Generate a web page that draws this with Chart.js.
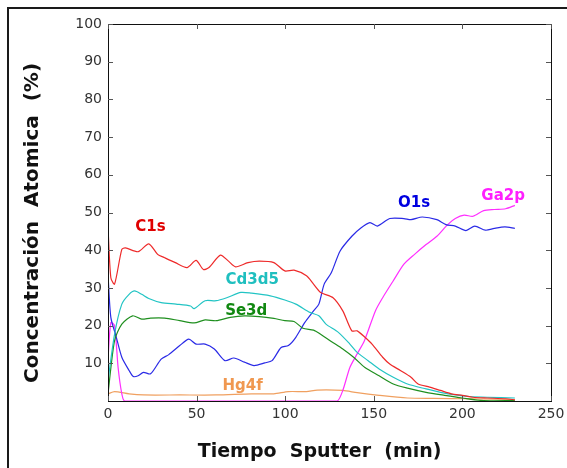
<!DOCTYPE html>
<html>
<head>
<meta charset="utf-8">
<script src="https://cdn.jsdelivr.net/npm/chart.js@4"></script>
<style>
  body { margin: 0; background: #fff; }
  #frame { position: absolute; left: 7px; top: 7px; width: 600px; height: 500px; border: 2px solid #1a1a1a; }
  #wrap { position: absolute; left: 0; top: 0; width: 567px; height: 468px; }
</style>
</head>
<body>
<div id="frame"></div>
<div id="wrap"><canvas id="myChart" width="567" height="468"></canvas></div>
<script>
// perfil XPS: concentracion atomica vs tiempo de sputter
var c1sX = [0, 1.6, 3.7, 7.8, 9.8, 17, 23, 28, 32, 38, 44.6, 49.7, 53.8, 57, 63.4, 68, 72, 79, 85.4, 93.6, 99.8, 105, 112, 116, 120, 127, 132.5, 137.6, 140.6, 145, 149, 155, 159, 165, 171, 175, 181.5, 187.6, 193.8, 200, 206, 214, 224.4, 229.6];
var c1sY = [46, 32.7, 31, 40.2, 40.6, 39.6, 41.7, 38.9, 38, 36.7, 35.4, 37.3, 34.9, 35.4, 38.7, 37.1, 35.6, 36.7, 37.1, 36.7, 34.5, 34.7, 33.2, 31, 28.8, 27.4, 23.9, 18.6, 18.6, 16.9, 15.1, 11.6, 9.8, 8.1, 6.3, 4.5, 3.7, 2.8, 1.9, 1.5, 1.0, 0.8, 0.6, 0.3];

var cdX = [0, 3.7, 7.8, 11.9, 15, 19, 23, 30, 38.4, 46.6, 48.6, 54.8, 61, 67, 75, 81, 91.6, 99.8, 106, 114, 119, 123, 130, 136.5, 140.6, 146.8, 153, 161, 169, 179.5, 187.6, 196, 204, 214, 229.6];
var cdY = [5.4, 17.7, 25.7, 28.3, 29.2, 28.3, 27.2, 26.1, 25.7, 25.2, 24.5, 26.6, 26.6, 27.4, 28.8, 28.6, 27.9, 26.8, 25.7, 23.5, 22.6, 20.4, 18.2, 15.1, 12.9, 10.7, 8.5, 6.3, 4.5, 3.2, 2.3, 1.6, 1.2, 1.0, 0.8];

var seX = [0, 3.7, 7.8, 13.9, 19, 24, 32, 40.5, 48.6, 54.8, 61, 69, 77, 85.4, 93.6, 99.8, 105, 110, 116, 120, 126, 132.5, 138.6, 145, 153, 161, 169, 179.5, 190, 200, 212, 229.6];
var seY = [1.9, 16, 20.4, 22.6, 21.7, 22, 22, 21.3, 20.7, 21.5, 21.3, 22.2, 22.6, 22.4, 21.9, 21.3, 21.1, 19.3, 18.8, 17.7, 15.8, 13.8, 11.6, 8.9, 6.7, 4.5, 3.4, 2.3, 1.5, 0.8, 0.1, 0.1];

var o1sX = [0, 1.6, 4.7, 7.8, 11.9, 14.3, 17, 20, 24, 30, 34.3, 40.5, 45.6, 49.7, 54.8, 60, 66, 71, 77, 82.4, 88.5, 92.6, 97.7, 101.8, 106, 111, 116, 119, 122, 126, 131, 137.6, 142.7, 147.8, 152, 159, 167, 171, 177.4, 185.6, 190.7, 196, 202, 207, 213, 218, 224, 229.6];
var o1sY = [33.6, 22.2, 16.9, 11.6, 8.1, 6.5, 6.7, 7.6, 7.2, 11.1, 12.3, 14.7, 16.4, 15.1, 15.1, 13.8, 10.7, 11.4, 10.3, 9.4, 10.1, 10.7, 14.2, 14.7, 16.9, 20.8, 23.9, 25.7, 31, 34, 39.8, 43.7, 45.9, 47.3, 46.4, 48.4, 48.4, 48.1, 48.8, 48.1, 46.8, 46.4, 45.2, 46.4, 45.3, 45.8, 46.2, 45.8];

var gaX = [0, 1.6, 3.7, 5.7, 7.8, 9.4, 30, 60, 90, 120, 129.4, 132.5, 136.5, 140.6, 144.7, 150.9, 155, 161, 167, 173, 179.5, 185.6, 191.7, 196, 201, 206, 212, 218, 224.4, 229.6];
var gaY = [11.1, 20.8, 20, 8.9, 1.9, 0, 0, 0, 0, 0, 0, 2.8, 8.9, 12.5, 16, 23.9, 27.4, 31.9, 36.3, 38.9, 41.5, 43.7, 46.8, 48.4, 49.3, 49, 50.5, 50.8, 51, 51.9];

var hgX = [0, 3.7, 11.9, 20, 40.5, 61, 81, 93.6, 101.8, 112, 118, 132.5, 140.6, 153, 169, 183.6, 204, 229.6];
var hgY = [1.9, 2.5, 1.9, 1.6, 1.6, 1.6, 1.9, 1.9, 2.5, 2.5, 2.9, 2.8, 2.2, 1.5, 0.8, 0.7, 0.6, 0.4];

var seriesNames = ['C1s', 'Cd3d5', 'Se3d', 'O1s', 'Ga2p', 'Hg4f'];
var seriesColors = ['#ee2a2a', '#22c4c4', '#1f8f1f', '#2a2ae6', '#ff2eff', '#f0a060'];
var labelColors = ['#e00000', '#1fbfbf', '#118811', '#0000e0', '#ff20ff', '#f09850'];
// posicion de las etiquetas, en unidades de datos
var labelX = [24, 81.4, 78, 172.7, 223, 76];
var labelY = [46.1, 32, 23.9, 52.4, 54.3, 3.9];

var xTicks = [0, 50, 100, 150, 200, 250];
var yTicks = [10, 20, 30, 40, 50, 60, 70, 80, 90, 100];

function toPoints(xs, ys) {
    var pts = [];
    for (var i = 0; i < xs.length; i++) pts.push({x: xs[i], y: ys[i]});
    return pts;
}

var allX = [c1sX, cdX, seX, o1sX, gaX, hgX];
var allY = [c1sY, cdY, seY, o1sY, gaY, hgY];
var myDatasets = [];
for (var i = 0; i < seriesNames.length; i++) {
    myDatasets.push({
        label: seriesNames[i],
        data: toPoints(allX[i], allY[i]),
        borderColor: seriesColors[i],
        borderWidth: 1.2,
        pointRadius: 0,
        tension: 0.25,
        fill: false
    });
}

// ticks hacia adentro en los 4 lados + borde superior/derecho + etiquetas
const framePlugin = {
    id: 'framePlugin',
    afterDatasetsDraw(chart) {
        const c = chart.ctx;
        const a = chart.chartArea;
        const xs = chart.scales.x, ys = chart.scales.y;
        c.save();
        c.strokeStyle = '#111';
        c.lineWidth = 1;
        c.strokeRect(Math.round(a.left) + 0.5, Math.round(a.top) + 0.5, Math.round(a.right - a.left), Math.round(a.bottom - a.top));
        c.strokeStyle = '#555';
        for (const v of yTicks) {
            const py = Math.round(ys.getPixelForValue(v)) + 0.5;
            c.beginPath(); c.moveTo(a.left, py); c.lineTo(a.left + 5, py); c.stroke();
            c.beginPath(); c.moveTo(a.right, py); c.lineTo(a.right - 5, py); c.stroke();
        }
        for (const v of xTicks) {
            const px = Math.round(xs.getPixelForValue(v)) + 0.5;
            c.beginPath(); c.moveTo(px, a.bottom); c.lineTo(px, a.bottom - 5); c.stroke();
            c.beginPath(); c.moveTo(px, a.top); c.lineTo(px, a.top + 5); c.stroke();
        }
        c.font = 'bold 15px "DejaVu Sans", Verdana, sans-serif';
        c.textAlign = 'center';
        c.textBaseline = 'middle';
        for (let i = 0; i < seriesNames.length; i++) {
            c.fillStyle = labelColors[i];
            c.fillText(seriesNames[i], xs.getPixelForValue(labelX[i]), ys.getPixelForValue(labelY[i]));
        }
        c.restore();
    }
};

const config = {
    type: 'line',
    data: { datasets: myDatasets },
    options: {
        responsive: false,
        animation: false,
        layout: { padding: { top: 24, right: 16, left: 0, bottom: 0 } },
        plugins: { legend: { display: false }, tooltip: { enabled: false } },
        scales: {
            x: {
                type: 'linear',
                min: 0,
                max: 250,
                afterFit: function(scale) {
                    scale.height = 67;
                    scale.paddingLeft = 0;
                    scale.paddingRight = 0;
                },
                afterBuildTicks: function(scale) { scale.ticks = xTicks.map(v => ({value: v})); },
                ticks: { color: '#333', padding: 5, font: { family: '"DejaVu Sans", Verdana, sans-serif', size: 14 } },
                grid: { display: false, drawTicks: false },
                border: { display: true, color: '#111', width: 1 },
                title: {
                    display: true,
                    text: 'Tiempo  Sputter  (min)   ',
                    color: '#111',
                    font: { family: '"DejaVu Sans", Verdana, sans-serif', size: 19, weight: 'bold' },
                    padding: { top: 0, bottom: 5 }
                }
            },
            y: {
                min: 0,
                max: 100,
                afterFit: function(scale) {
                    scale.width = 108;
                    scale.paddingTop = 0;
                    scale.paddingBottom = 0;
                },
                afterBuildTicks: function(scale) { scale.ticks = yTicks.map(v => ({value: v})); },
                ticks: { color: '#333', padding: 6, font: { family: '"DejaVu Sans", Verdana, sans-serif', size: 14 } },
                grid: { display: false, drawTicks: false },
                border: { display: true, color: '#111', width: 1 },
                title: {
                    display: true,
                    text: 'Concentración  Atomica  (%)   ',
                    color: '#111',
                    font: { family: '"DejaVu Sans", Verdana, sans-serif', size: 20, weight: 'bold' },
                    padding: { top: 21, bottom: 0 }
                }
            }
        }
    },
    plugins: [framePlugin]
};

const ctx = document.getElementById('myChart');
const myChart = new Chart(ctx, config);
</script>
</body>
</html>
